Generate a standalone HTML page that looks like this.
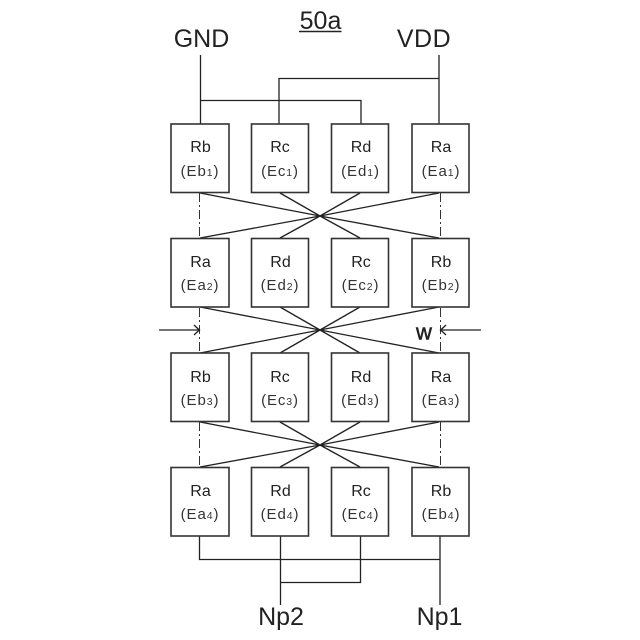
<!DOCTYPE html>
<html>
<head>
<meta charset="utf-8">
<style>
html,body{margin:0;padding:0;background:#fff;}
svg{display:block;}
text{font-family:"Liberation Sans","Noto Sans CJK JP",sans-serif;fill:#222;}
.n{font-size:16px;text-anchor:middle;}
.e{font-size:15px;text-anchor:middle;letter-spacing:0.9px;fill:#333;}
.s{font-size:10.5px;}
.big{font-size:25px;text-anchor:middle;}
.box{fill:#fff;stroke:#333;stroke-width:1.6;}
.l{stroke:#222;stroke-width:1.3;fill:none;}
.d{stroke:#333;stroke-width:1;fill:none;stroke-dasharray:9 3 2 3;}
</style>
</head>
<body>
<svg width="640" height="640" viewBox="0 0 640 640" xmlns="http://www.w3.org/2000/svg">
<rect width="640" height="640" fill="#fff"/>

<!-- dash-dot center lines -->
<path class="d" d="M199.500 193V238M199.500 308V353M199.500 422V467M440.500 193V238M440.500 308V353M440.500 422V467"/>

<!-- top wiring -->
<path class="l" d="M200.500 55V124M439 55V124M279 124V78.500H439M200.500 100.500H361V124"/>

<!-- crossings -->
<path class="l" d="M200 193L320 216L439 238M280 193L320 216L360 238M360 193L320 216L280 238M439 193L320 216L200 238"/>
<path class="l" d="M200 307L320 330L439 353M280 307L320 330L360 353M360 307L320 330L280 353M439 307L320 330L200 353"/>
<path class="l" d="M200 422L320 445L439 467M280 422L320 445L360 467M360 422L320 445L280 467M439 422L320 445L200 467"/>

<!-- bottom wiring -->
<path class="l" d="M199.500 536V559.500H440M280.500 536V605M360.500 536V582.500H280.500M440 536V605"/>

<!-- w arrows -->
<path class="l" d="M159 330H199M194 325Q197 328 199.500 330Q197 332 194 335M481 330H441M446 325Q443 328 440.500 330Q443 332 446 335"/>
<text x="424" y="339.500" font-size="22" text-anchor="middle" stroke="#222" stroke-width="0.5">w</text>

<!-- row 1 -->
<rect class="box" x="171" y="124" width="58" height="68.500"/>
<rect class="box" x="251.500" y="124" width="57" height="68.500"/>
<rect class="box" x="331.500" y="124" width="57" height="68.500"/>
<rect class="box" x="412" y="124" width="57" height="68.500"/>
<!-- row 2 -->
<rect class="box" x="171" y="238.500" width="58" height="68.500"/>
<rect class="box" x="251.500" y="238.500" width="57" height="68.500"/>
<rect class="box" x="331.500" y="238.500" width="57" height="68.500"/>
<rect class="box" x="412" y="238.500" width="57" height="68.500"/>
<!-- row 3 -->
<rect class="box" x="171" y="353" width="58" height="68.500"/>
<rect class="box" x="251.500" y="353" width="57" height="68.500"/>
<rect class="box" x="331.500" y="353" width="57" height="68.500"/>
<rect class="box" x="412" y="353" width="57" height="68.500"/>
<!-- row 4 -->
<rect class="box" x="171" y="467.500" width="58" height="68.500"/>
<rect class="box" x="251.500" y="467.500" width="57" height="68.500"/>
<rect class="box" x="331.500" y="467.500" width="57" height="68.500"/>
<rect class="box" x="412" y="467.500" width="57" height="68.500"/>

<!-- labels row 1 -->
<text class="n" x="200.500" y="152">Rb</text><text class="e" x="200" y="176">(Eb<tspan class="s">1</tspan>)</text>
<text class="n" x="280" y="152">Rc</text><text class="e" x="280" y="176">(Ec<tspan class="s">1</tspan>)</text>
<text class="n" x="361" y="152">Rd</text><text class="e" x="360.500" y="176">(Ed<tspan class="s">1</tspan>)</text>
<text class="n" x="441" y="152">Ra</text><text class="e" x="441" y="176">(Ea<tspan class="s">1</tspan>)</text>
<!-- labels row 2 -->
<text class="n" x="200.500" y="267">Ra</text><text class="e" x="200" y="290">(Ea<tspan class="s">2</tspan>)</text>
<text class="n" x="280.500" y="267">Rd</text><text class="e" x="280" y="290">(Ed<tspan class="s">2</tspan>)</text>
<text class="n" x="361" y="267">Rc</text><text class="e" x="360.500" y="290">(Ec<tspan class="s">2</tspan>)</text>
<text class="n" x="441" y="267">Rb</text><text class="e" x="441" y="290">(Eb<tspan class="s">2</tspan>)</text>
<!-- labels row 3 -->
<text class="n" x="200.500" y="382">Rb</text><text class="e" x="200" y="405">(Eb<tspan class="s">3</tspan>)</text>
<text class="n" x="280" y="382">Rc</text><text class="e" x="280" y="405">(Ec<tspan class="s">3</tspan>)</text>
<text class="n" x="361" y="382">Rd</text><text class="e" x="360.500" y="405">(Ed<tspan class="s">3</tspan>)</text>
<text class="n" x="441" y="382">Ra</text><text class="e" x="441" y="405">(Ea<tspan class="s">3</tspan>)</text>
<!-- labels row 4 -->
<text class="n" x="200.500" y="496">Ra</text><text class="e" x="200" y="519">(Ea<tspan class="s">4</tspan>)</text>
<text class="n" x="280.500" y="496">Rd</text><text class="e" x="280" y="519">(Ed<tspan class="s">4</tspan>)</text>
<text class="n" x="361" y="496">Rc</text><text class="e" x="360.500" y="519">(Ec<tspan class="s">4</tspan>)</text>
<text class="n" x="441" y="496">Rb</text><text class="e" x="441" y="519">(Eb<tspan class="s">4</tspan>)</text>

<!-- large labels -->
<text class="big" x="320.500" y="29">50a</text>
<path d="M299 31.500H341.500" stroke="#222" stroke-width="1.500"/>
<text class="big" x="201.500" y="47">GND</text>
<text class="big" x="424" y="47" letter-spacing="0.5">VDD</text>
<text class="big" x="281" y="625">Np2</text>
<text class="big" x="439.500" y="625">Np1</text>
</svg>
</body>
</html>
